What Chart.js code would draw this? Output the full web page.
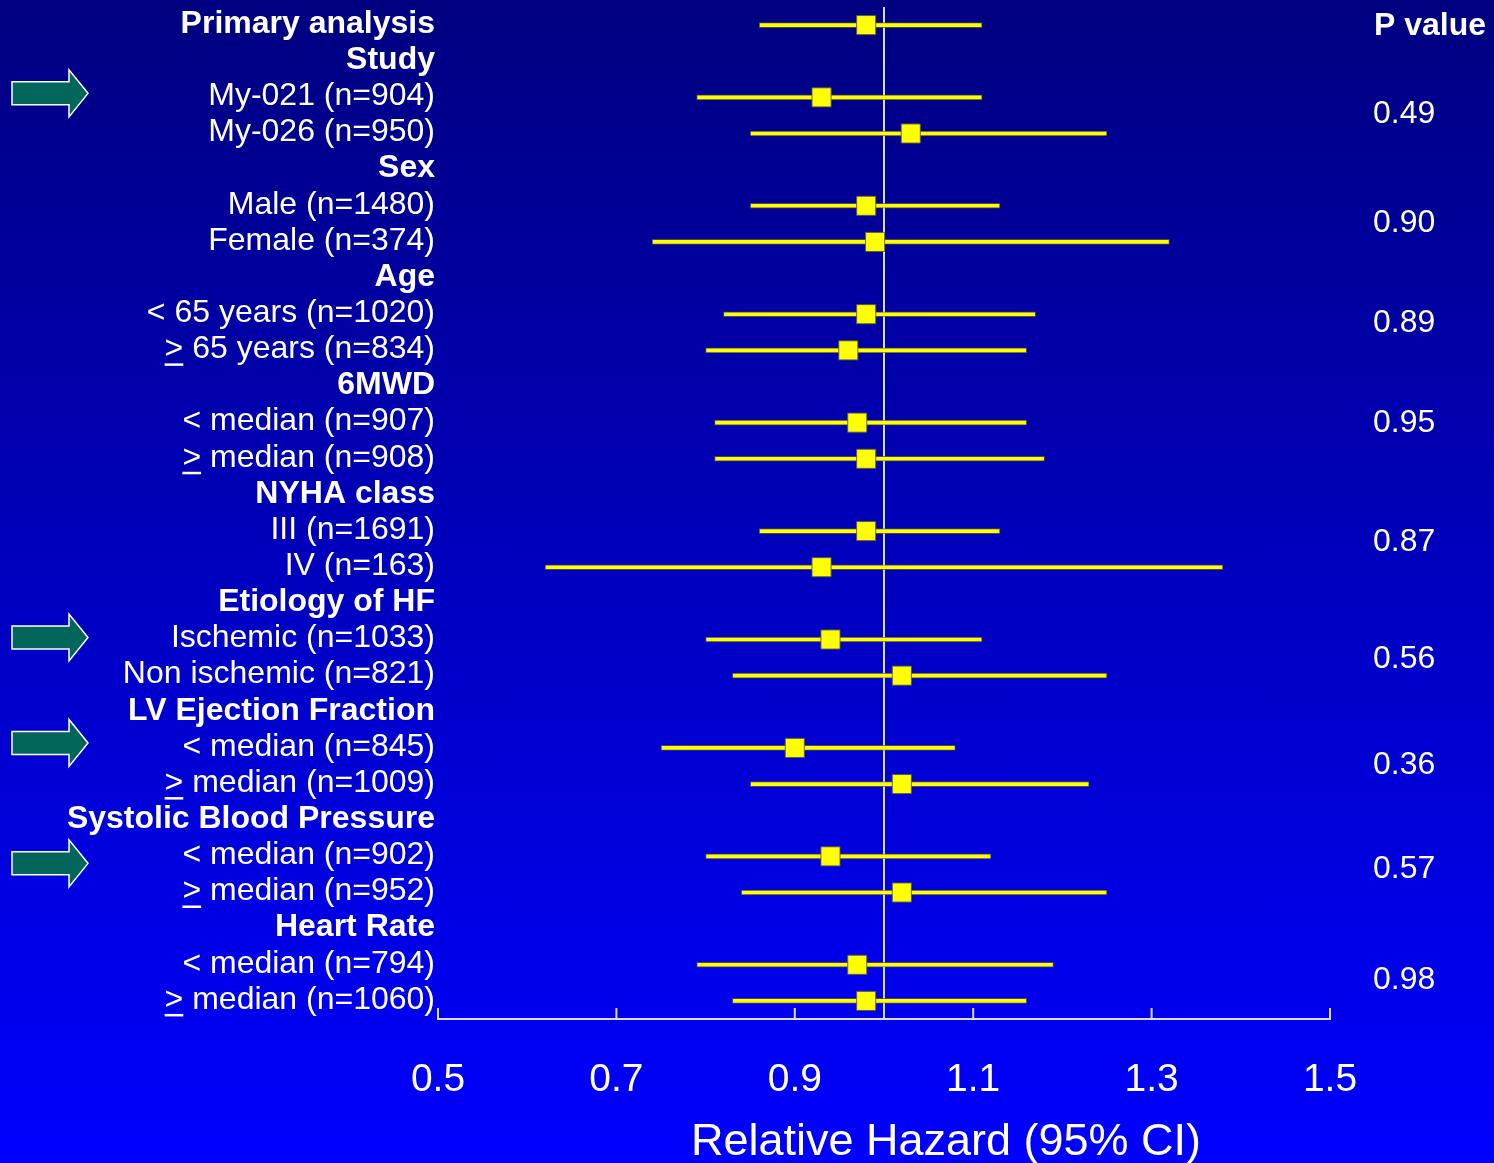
<!DOCTYPE html>
<html>
<head>
<meta charset="utf-8">
<script src="https://cdn.jsdelivr.net/npm/chart.js@4.4.1/dist/chart.umd.min.js"></script>
<style>
  html, body { margin: 0; padding: 0; }
  body {
    width: 1494px; height: 1163px; overflow: hidden;
    background: linear-gradient(to bottom, #000080 0%, #0000ff 100%);
  }
  canvas { display: block; }
</style>
</head>
<body>
<canvas id="forest" width="1494" height="1163"></canvas>
<script>
// Subgroup rows, top to bottom
const rowLabels = [
  'Primary analysis',
  'Study', 'My-021 (n=904)', 'My-026 (n=950)',
  'Sex', 'Male (n=1480)', 'Female (n=374)',
  'Age', '< 65 years (n=1020)', '> 65 years (n=834)',
  '6MWD', '< median (n=907)', '> median (n=908)',
  'NYHA class', 'III (n=1691)', 'IV (n=163)',
  'Etiology of HF', 'Ischemic (n=1033)', 'Non ischemic (n=821)',
  'LV Ejection Fraction', '< median (n=845)', '> median (n=1009)',
  'Systolic Blood Pressure', '< median (n=902)', '> median (n=952)',
  'Heart Rate', '< median (n=794)', '> median (n=1060)'
];
const boldRows = [0, 1, 4, 7, 10, 13, 16, 19, 22, 25];

// Relative hazard and 95% CI per row (null for group headings)
const hazard = [
  0.98,
  null, 0.93, 1.03,
  null, 0.98, 0.99,
  null, 0.98, 0.96,
  null, 0.97, 0.98,
  null, 0.98, 0.93,
  null, 0.94, 1.02,
  null, 0.90, 1.02,
  null, 0.94, 1.02,
  null, 0.97, 0.98
];
const lowerCI = [
  0.86,
  null, 0.79, 0.85,
  null, 0.85, 0.74,
  null, 0.82, 0.80,
  null, 0.81, 0.81,
  null, 0.86, 0.62,
  null, 0.80, 0.83,
  null, 0.75, 0.85,
  null, 0.80, 0.84,
  null, 0.79, 0.83
];
const upperCI = [
  1.11,
  null, 1.11, 1.25,
  null, 1.13, 1.32,
  null, 1.17, 1.16,
  null, 1.16, 1.18,
  null, 1.13, 1.38,
  null, 1.11, 1.25,
  null, 1.08, 1.23,
  null, 1.12, 1.25,
  null, 1.19, 1.16
];

// Interaction p values, one per grouping (Study ... Heart Rate)
const pValues = ['0.49', '0.90', '0.89', '0.95', '0.87', '0.56', '0.36', '0.57', '0.98'];
const pValueGroupRows = [[2, 3], [5, 6], [8, 9], [11, 12], [14, 15], [17, 18], [20, 21], [23, 24], [26, 27]];

// Rows flagged with an arrow
const arrowRows = [2, 17, 20, 23];

const xTicks = [0.5, 0.7, 0.9, 1.1, 1.3, 1.5];
const noEffect = 1.0;

const FONT = '"Liberation Sans", Arial, Helvetica, sans-serif';
const LABEL_SIZE = 32;
const LABEL_PAD = 3;
const LABEL_SHIFT = -1;
const AXIS_COLOR = '#dcdcf0';
// fine vertical placement of the p values and arrows (px)
const P_NUDGE = [-1, -1, -9, -18, -7, 2, -1, -5, -3];
const ARROW_NUDGE = [-4, -2, -5, 7];

Chart.defaults.font.family = FONT;
Chart.defaults.color = '#ffffff';

const decorations = {
  id: 'forestDecorations',
  beforeDatasetsDraw(chart) {
    const { ctx, chartArea, scales: { x } } = chart;
    const px = x.getPixelForValue(noEffect);
    ctx.save();
    ctx.strokeStyle = AXIS_COLOR;
    ctx.lineWidth = 2;
    ctx.beginPath();
    ctx.moveTo(px, chartArea.top);
    ctx.lineTo(px, chartArea.bottom);
    ctx.stroke();
    // tick marks rising from the axis
    xTicks.forEach(v => {
      const tx = x.getPixelForValue(v);
      ctx.beginPath();
      ctx.moveTo(tx, chartArea.bottom);
      ctx.lineTo(tx, chartArea.bottom - 11);
      ctx.stroke();
    });
    ctx.restore();
  },
  afterDraw(chart) {
    const { ctx, chartArea, scales: { x, y } } = chart;
    ctx.save();

    // underline under ">" so it reads as "greater or equal"
    ctx.font = `${LABEL_SIZE}px ${FONT}`;
    ctx.fillStyle = '#ffffff';
    rowLabels.forEach((lab, i) => {
      if (!lab.startsWith('>')) return;
      const w = ctx.measureText(lab).width;
      const gw = ctx.measureText('>').width;
      const xr = y.right - LABEL_PAD;
      const ly = y.getPixelForTick(i) + LABEL_SHIFT + 14;
      ctx.fillRect(xr - w, ly, gw, 2.5);
    });

    // P value column
    const pX = chartArea.right + 43;
    ctx.textBaseline = 'middle';
    ctx.textAlign = 'left';
    ctx.font = `bold ${LABEL_SIZE}px ${FONT}`;
    ctx.fillText('P value', pX + 1, y.getPixelForTick(0) + 1);
    ctx.font = `${LABEL_SIZE}px ${FONT}`;
    pValues.forEach((p, g) => {
      const [a, b] = pValueGroupRows[g];
      const py = (y.getPixelForTick(a) + y.getPixelForTick(b)) / 2 + P_NUDGE[g];
      ctx.fillText(p, pX, py);
    });

    // axis title
    ctx.textAlign = 'center';
    ctx.font = `45px ${FONT}`;
    ctx.fillText('Relative Hazard (95% CI)', x.getPixelForValue(noEffect) + 62, chartArea.bottom + 124);

    // highlight arrows
    arrowRows.forEach((r, k) => {
      const cy = y.getPixelForTick(r) + ARROW_NUDGE[k];
      ctx.beginPath();
      ctx.moveTo(12, cy - 11.5);
      ctx.lineTo(69, cy - 11.5);
      ctx.lineTo(69, cy - 23.5);
      ctx.lineTo(88, cy);
      ctx.lineTo(69, cy + 23.5);
      ctx.lineTo(69, cy + 11.5);
      ctx.lineTo(12, cy + 11.5);
      ctx.closePath();
      ctx.fillStyle = '#02665a';
      ctx.fill();
      ctx.strokeStyle = '#ffffff';
      ctx.lineWidth = 1.5;
      ctx.stroke();
    });
    ctx.restore();
  }
};

new Chart(document.getElementById('forest'), {
  type: 'bar',
  data: {
    labels: rowLabels,
    datasets: [
      {
        type: 'line',
        label: 'Relative hazard',
        data: hazard,
        showLine: false,
        clip: false,
        pointStyle: 'rect',
        pointRadius: 13.5,
        pointHoverRadius: 13.5,
        pointBackgroundColor: '#ffff00',
        pointBorderColor: 'rgba(90, 90, 70, 0.9)',
        pointBorderWidth: 1,
        order: 0
      },
      {
        type: 'bar',
        label: '95% CI',
        data: lowerCI.map((lo, i) => lo === null ? null : [lo, upperCI[i]]),
        backgroundColor: '#ffff00',
        borderColor: 'rgba(90, 90, 70, 0.8)',
        borderWidth: 1,
        borderSkipped: false,
        barThickness: 5,
        order: 1
      }
    ]
  },
  options: {
    indexAxis: 'y',
    responsive: false,
    animation: false,
    events: [],
    layout: { autoPadding: false, padding: { top: 7, right: 164, bottom: 0, left: 0 } },
    plugins: { legend: { display: false }, tooltip: { enabled: false } },
    scales: {
      x: {
        type: 'linear',
        min: 0.5,
        max: 1.5,
        afterBuildTicks: s => { s.ticks = xTicks.map(v => ({ value: v })); },
        afterFit: s => { s.height = 144; s.paddingLeft = 0; s.paddingRight = 0; },
        grid: { display: false, drawTicks: false },
        border: { display: true, color: AXIS_COLOR, width: 2 },
        ticks: {
          color: '#ffffff',
          font: { size: 39 },
          padding: 38,
          maxRotation: 0,
          callback: v => Number(v).toFixed(1)
        }
      },
      y: {
        type: 'category',
        offset: true,
        afterFit: s => { s.width = 438; s.paddingTop = 0; s.paddingBottom = 0; },
        grid: { display: false, drawTicks: false },
        border: { display: false },
        ticks: {
          color: '#ffffff',
          autoSkip: false,
          padding: LABEL_PAD,
          labelOffset: LABEL_SHIFT,
          font: ctx => ({ size: LABEL_SIZE, weight: boldRows.includes(ctx.index) ? 'bold' : 'normal' })
        }
      }
    }
  },
  plugins: [decorations]
});
</script>
</body>
</html>
